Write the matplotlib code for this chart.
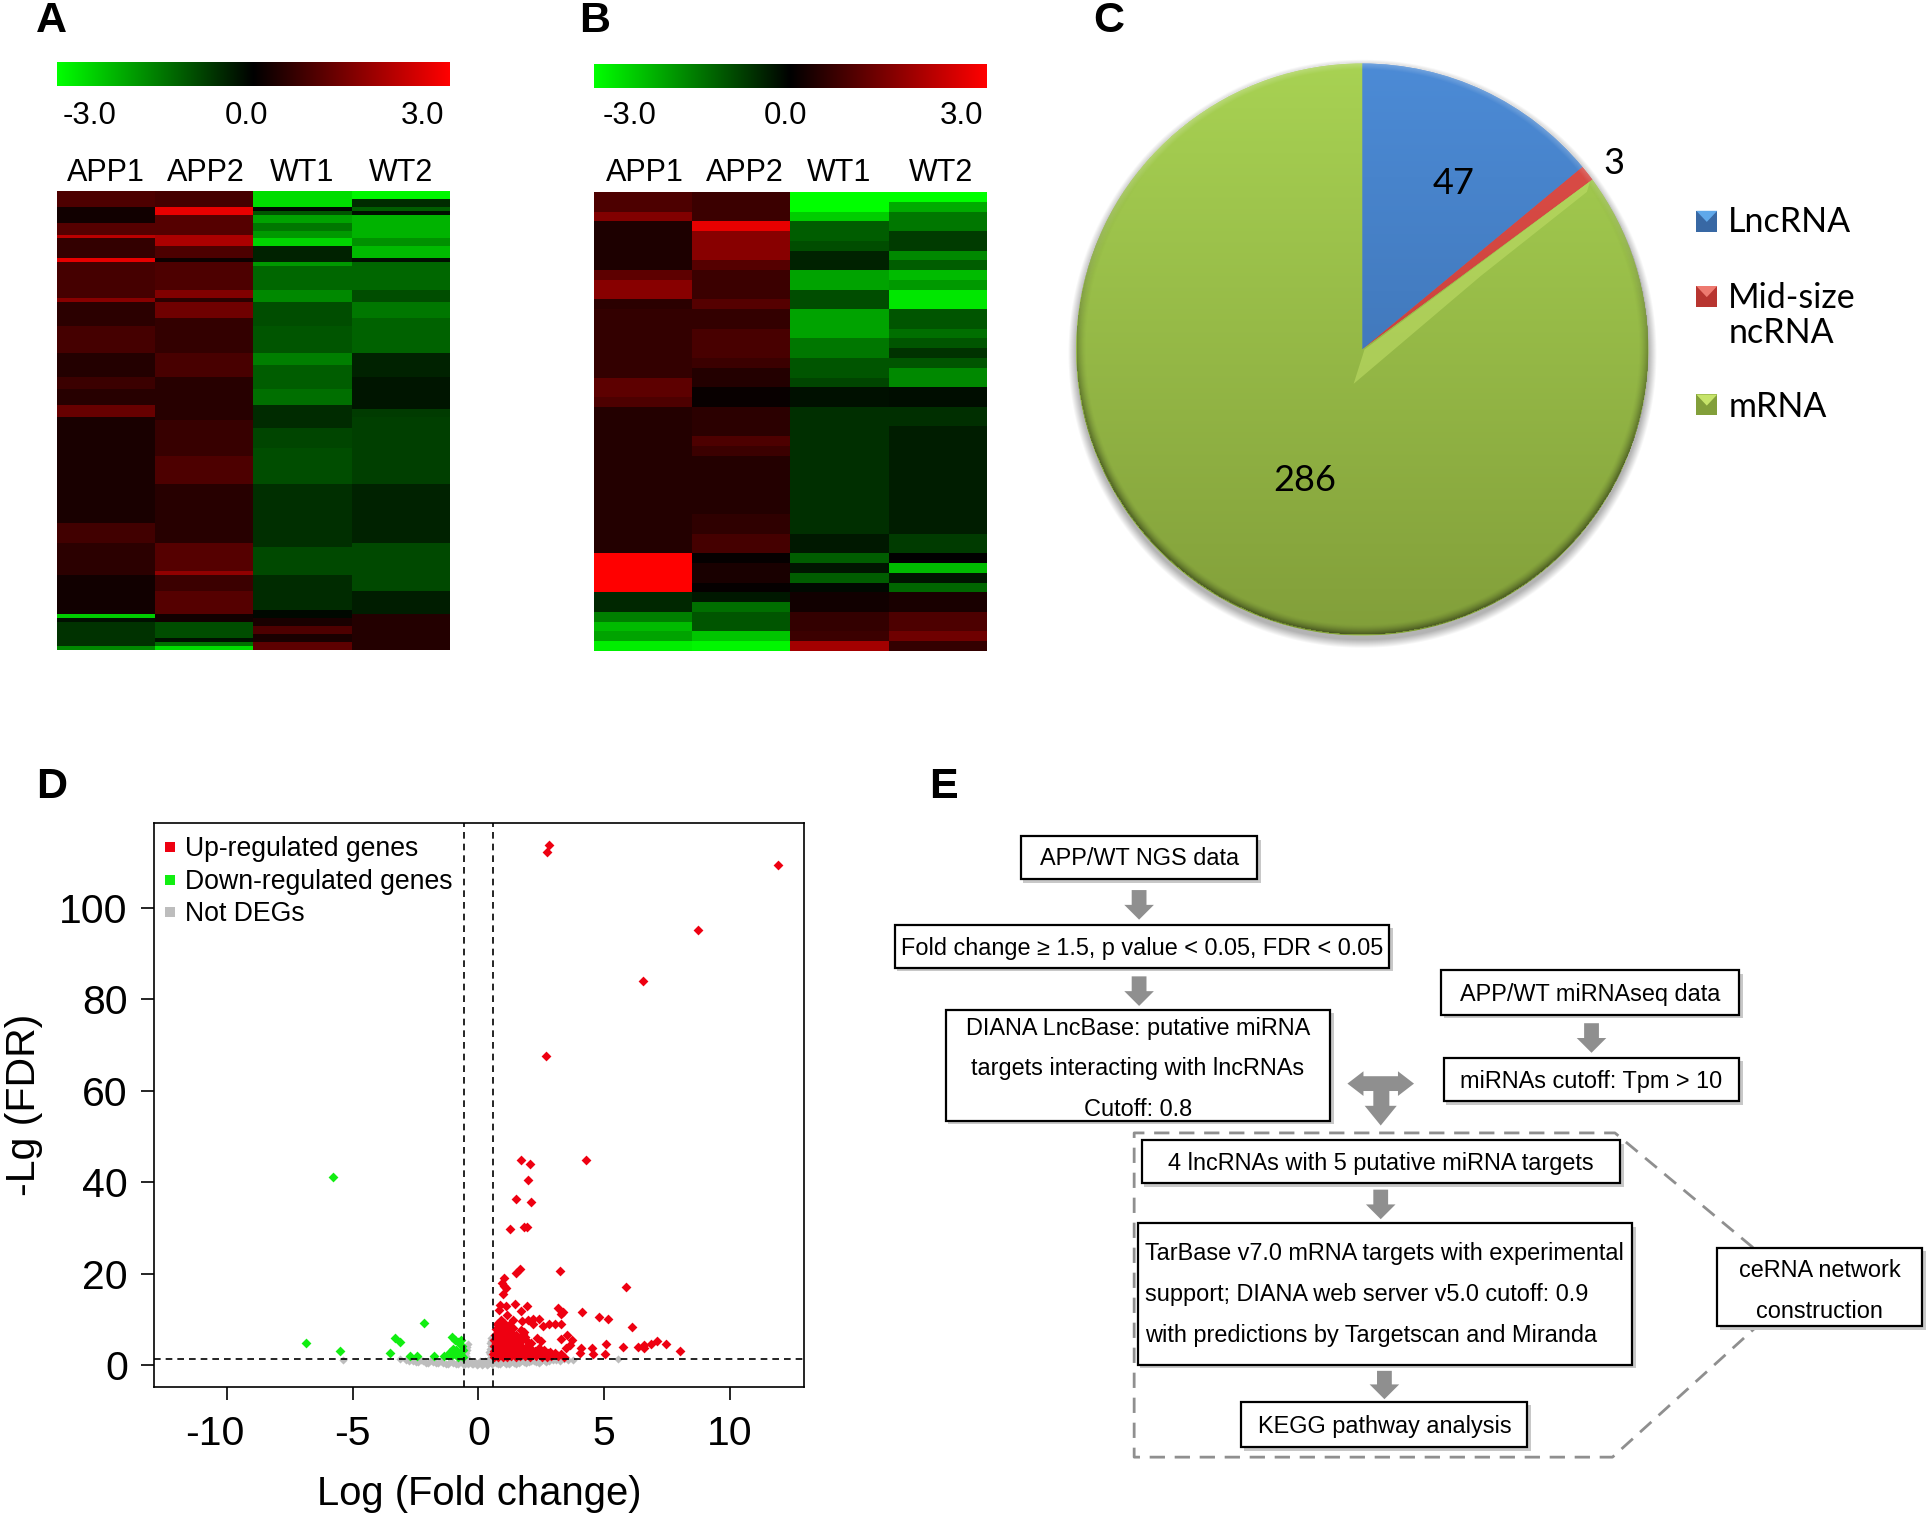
import numpy as np
import matplotlib
matplotlib.use("Agg")
import matplotlib.pyplot as plt
from matplotlib.colors import LinearSegmentedColormap
from matplotlib.patches import Rectangle, Polygon
from matplotlib.transforms import ScaledTranslation

plt.rcParams['font.family'] = ['Liberation Sans', 'DejaVu Sans']
plt.rcParams['axes.unicode_minus'] = False

# heatmap A, one (value, rows) run list per sample
a_app1 = [(0.9, 4), (0.2, 4), (1.0, 3), (2.2, 1), (0.6, 5), (2.7, 1), (0.8, 9), (1.6, 1), (0.5, 6), (0.8, 7),
          (0.4, 6), (0.7, 3), (0.45, 4), (1.2, 3), (0.3, 27), (0.75, 5), (0.5, 8), (0.2, 10), (-2.4, 1),
          (-0.2, 1), (-0.6, 6), (-1.6, 1)]
a_app2 = [(0.8, 4), (2.7, 2), (1.0, 5), (2.0, 3), (0.9, 3), (0.15, 1), (0.9, 7), (1.5, 2), (0.5, 1), (1.3, 4),
          (0.6, 9), (0.85, 6), (0.45, 11), (0.65, 9), (0.9, 7), (0.45, 15), (1.0, 7), (1.7, 1), (0.7, 4),
          (1.0, 6), (0.2, 2), (-0.9, 4), (-0.2, 1), (-1.3, 1), (-2.6, 1)]
a_wt1 = [(-2.6, 4), (-0.1, 1), (-1.0, 1), (-1.9, 2), (-1.4, 2), (-1.8, 2), (-2.5, 2), (-0.4, 4), (-1.8, 1),
         (-1.2, 6), (-1.6, 3), (-0.9, 6), (-1.0, 7), (-1.5, 3), (-1.1, 6), (-1.3, 4), (-0.5, 6), (-0.8, 5),
         (-0.9, 9), (-0.55, 16), (-0.85, 7), (-0.5, 9), (-0.1, 2), (0.3, 2), (0.9, 2), (0.3, 2), (1.1, 2)]
a_wt2 = [(-2.9, 2), (-0.5, 2), (-1.1, 1), (-0.2, 1), (-2.1, 6), (-1.7, 2), (-2.2, 3), (-0.2, 1), (-1.2, 7),
         (-0.9, 3), (-1.4, 4), (-1.15, 9), (-0.4, 6), (-0.25, 8), (-0.7, 2), (-0.75, 17), (-0.4, 15),
         (-0.85, 12), (-0.35, 6), (0.4, 9)]

# heatmap B
b_app1 = [(0.9, 2), (1.5, 1), (0.35, 5), (1.1, 1), (1.6, 2), (0.5, 1), (0.6, 7), (1.1, 2), (0.9, 1), (0.4, 15),
          (3.0, 4), (-0.45, 2), (-1.5, 1), (-2.2, 1), (-1.9, 1), (-2.8, 1)]
b_app2 = [(0.7, 3), (2.7, 1), (1.6, 3), (1.0, 1), (0.7, 3), (1.0, 1), (0.6, 2), (0.85, 3), (0.7, 1), (0.4, 2),
          (0.1, 2), (0.5, 3), (0.9, 1), (0.7, 1), (0.4, 6), (0.55, 2), (0.8, 2), (0.05, 1), (0.3, 2), (0.05, 1),
          (-0.3, 1), (-1.3, 1), (-1.0, 2), (-2.3, 1), (-2.9, 1)]
b_wt1 = [(-3.0, 2), (-2.4, 1), (-1.1, 2), (-0.9, 1), (-0.4, 2), (-1.9, 2), (-0.9, 2), (-1.9, 3), (-1.4, 2),
         (-1.0, 2), (-0.8, 1), (-0.2, 2), (-0.55, 13), (-0.3, 2), (-1.1, 1), (-0.25, 1), (-1.1, 1), (-0.1, 1),
         (0.2, 2), (0.6, 2), (0.7, 1), (1.9, 1)]
b_wt2 = [(-3.0, 1), (-2.0, 1), (-1.4, 2), (-0.7, 2), (-1.6, 1), (-1.1, 1), (-2.2, 1), (-1.8, 1), (-2.7, 2),
         (-1.0, 2), (-1.3, 1), (-1.0, 1), (-0.6, 1), (-1.0, 1), (-1.6, 2), (-0.15, 2), (-0.55, 2), (-0.35, 11),
         (-0.7, 2), (0.0, 1), (-2.2, 1), (-0.25, 1), (-1.2, 1), (0.3, 2), (0.9, 2), (1.3, 1), (0.6, 1)]

samples = ['APP1', 'APP2', 'WT1', 'WT2']
scale_labels = ['-3.0', '0.0', '3.0']

# pie
pie_names = ['LncRNA', 'Mid-size\nncRNA', 'mRNA']
pie_counts = [47, 3, 286]

# volcano, (log fold change, -lg FDR)
up_genes = [(2.80, 113.8), (2.74, 112.2), (11.91, 109.3), (8.73, 95.2), (6.56, 84.0), (2.67, 67.6),
            (1.70, 44.9), (2.06, 43.9), (4.26, 44.9), (1.99, 40.6), (1.51, 36.4), (2.11, 35.8), (1.27, 29.7),
            (1.80, 30.2), (1.94, 30.2), (1.64, 21.1), (1.51, 20.1), (3.24, 20.7), (1.03, 19.1), (0.92, 17.9),
            (1.01, 17.4), (1.11, 16.8), (5.86, 17.2), (0.98, 15.5), (0.85, 13.2), (1.09, 12.9), (1.45, 13.5),
            (1.92, 12.9), (0.81, 12.1), (1.68, 11.8), (3.17, 12.6), (3.37, 11.7), (3.30, 11.2), (4.12, 11.6),
            (4.79, 10.6), (5.15, 10.2), (1.14, 11.0), (1.38, 9.9), (1.75, 9.7), (1.98, 10.0), (2.18, 10.2),
            (2.41, 10.2), (2.18, 9.0), (2.57, 8.6), (2.81, 9.0), (3.04, 9.0), (3.30, 9.0), (6.10, 8.3),
            (3.54, 6.6), (3.30, 5.7), (3.74, 5.5), (3.63, 4.4), (3.50, 3.7), (5.09, 4.7), (5.76, 4.1),
            (6.33, 4.1), (6.58, 4.4), (6.58, 3.7), (6.87, 4.7), (7.11, 5.4), (7.47, 4.7), (8.01, 3.1),
            (5.03, 2.5), (4.50, 3.7), (4.56, 2.4), (4.07, 3.7), (4.03, 2.6),
            # dense part next to the cut-off
            (0.62, 1.9), (0.61, 3.1), (0.60, 4.3), (0.63, 5.5), (0.66, 6.7), (0.70, 7.9), (0.74, 9.1),
            (0.78, 1.8), (0.77, 3.0), (0.79, 4.2), (0.80, 5.4), (0.83, 6.6), (0.84, 7.8), (0.88, 9.0), (0.90, 9.9),
            (0.96, 1.9), (0.95, 3.2), (0.97, 4.4), (0.98, 5.6), (0.99, 6.8), (1.00, 8.0), (1.03, 9.2),
            (1.12, 1.8), (1.13, 3.0), (1.15, 4.2), (1.14, 5.4), (1.16, 6.6), (1.18, 7.8), (1.20, 8.9),
            (1.30, 2.0), (1.31, 3.2), (1.29, 4.4), (1.33, 5.6), (1.35, 6.8), (1.36, 8.2),
            (1.48, 1.9), (1.47, 3.1), (1.50, 4.3), (1.52, 5.4), (1.49, 6.6), (1.66, 2.0), (1.68, 3.2), (1.70, 4.0),
            (1.72, 5.6), (1.76, 6.8), (1.82, 7.3), (1.70, 7.7), (1.84, 2.1), (1.86, 3.0), (1.90, 4.1), (1.84, 6.2),
            (2.05, 1.9), (2.03, 3.0), (2.10, 4.9), (2.30, 2.0), (2.26, 3.2), (2.34, 5.9), (2.46, 2.6), (2.40, 3.8),
            (2.52, 1.9), (2.50, 5.4), (2.72, 1.9), (2.75, 2.6), (2.90, 2.0), (3.05, 2.7), (3.15, 2.0), (3.30, 2.4),
            (3.42, 1.9), (2.62, 3.3), (0.58, 2.4),
            (0.70, 2.4), (0.68, 3.6), (0.71, 4.8), (0.72, 6.1), (0.76, 7.2), (0.80, 8.4), (0.87, 2.5), (0.88, 3.7),
            (0.89, 4.9), (0.90, 6.1), (0.92, 7.3), (0.95, 8.5), (1.04, 2.4), (1.05, 3.6), (1.06, 4.8), (1.07, 6.0),
            (1.09, 7.2), (1.10, 8.4), (1.21, 2.5), (1.22, 3.7), (1.24, 4.9), (1.25, 6.1), (1.26, 7.3), (1.39, 2.5),
            (1.40, 3.7), (1.41, 4.9), (1.42, 6.1), (1.57, 2.5), (1.58, 3.6), (1.60, 4.7), (1.62, 6.0), (1.78, 2.5),
            (1.80, 3.6), (1.95, 2.5), (2.15, 2.4), (2.38, 2.6), (2.10, 3.5), (1.96, 5.0), (2.62, 2.4), (2.85, 3.0)]
down_genes = [(-5.78, 41.2), (-6.86, 4.8), (-5.50, 3.2), (-3.50, 2.7), (-3.30, 5.9), (-3.10, 5.1), (-2.18, 9.3),
              (-2.73, 2.1), (-2.44, 2.1), (-1.78, 2.1), (-1.37, 2.1), (-1.07, 6.1), (-0.94, 5.5), (-0.81, 5.2),
              (-0.68, 5.5), (-1.14, 3.0), (-1.00, 3.5), (-0.88, 3.4), (-0.74, 3.0), (-0.62, 3.4), (-1.07, 2.3),
              (-0.94, 2.4), (-0.81, 1.9), (-0.68, 2.3), (-0.62, 1.9), (-1.22, 2.2), (-1.00, 2.7), (-0.80, 2.7),
              (-0.66, 4.2)]
not_degs = [(-5.40, 1.2), (-3.10, 1.4), (-2.90, 1.2), (-2.75, 1.0), (-2.60, 1.0), (-2.50, 0.7), (-2.40, 0.8),
            (-2.30, 1.2), (-2.20, 0.9), (-2.10, 0.6), (-2.00, 0.6), (-1.90, 1.1), (-1.80, 0.8), (-1.70, 0.5),
            (-1.60, 0.5), (-1.50, 1.0), (-1.40, 0.6), (-1.30, 0.4), (-1.20, 0.4), (-1.10, 0.9), (-1.00, 0.5),
            (-0.90, 0.3), (-0.80, 0.3), (-0.72, 0.9), (-0.65, 0.9), (-0.60, 0.2), (-0.55, 0.3), (-0.55, 1.4),
            (-0.50, 2.0), (-0.48, 2.8), (-0.46, 3.4), (-0.44, 4.0), (-0.42, 4.6), (-0.40, 0.2), (-0.38, 1.2),
            (-0.30, 0.7), (-0.25, 0.2), (-0.20, 0.2), (-0.15, 0.8), (-0.10, 0.6), (-0.05, 0.1), (0.00, 0.2),
            (0.05, 0.9), (0.10, 0.7), (0.15, 0.1), (0.20, 0.3), (0.25, 1.0), (0.30, 0.8), (0.35, 0.1), (0.40, 0.2),
            (0.42, 1.4), (0.45, 2.4), (0.44, 3.0), (0.46, 3.6), (0.47, 4.8), (0.48, 4.2), (0.50, 6.0), (0.50, 5.4),
            (0.55, 0.4), (0.62, 0.7), (0.70, 0.5), (0.78, 0.3), (0.85, 0.2), (0.92, 0.7), (1.00, 0.7), (1.10, 0.3),
            (1.20, 0.4), (1.30, 0.8), (1.40, 0.6), (1.50, 0.3), (1.60, 0.5), (1.70, 0.9), (1.80, 0.8), (1.90, 0.5),
            (2.00, 0.7), (2.10, 1.0), (2.20, 1.0), (2.30, 0.7), (2.40, 0.6), (2.50, 1.0), (2.60, 1.1), (2.70, 0.8),
            (2.80, 0.9), (2.95, 1.1), (3.10, 1.2), (3.25, 0.9), (3.40, 1.4), (3.55, 1.1), (3.75, 1.2), (5.56, 1.5)]
volcano_legend = ['Up-regulated genes', 'Down-regulated genes', 'Not DEGs']
volcano_colors = ['#ee0011', '#11ee11', '#bdbdbd']
fc_cut = 0.585
fdr_cut = 1.3

# flowchart text
flow_boxes = {
    'ngs': ['APP/WT NGS data'],
    'fold': ['Fold change ≥ 1.5, p value < 0.05, FDR < 0.05'],
    'diana': ['DIANA LncBase: putative miRNA', 'targets interacting with lncRNAs', 'Cutoff: 0.8'],
    'mirseq': ['APP/WT miRNAseq data'],
    'mircut': ['miRNAs cutoff: Tpm > 10'],
    'lnc': ['4 lncRNAs with 5 putative miRNA targets'],
    'tar': ['TarBase v7.0 mRNA targets with experimental', 'support; DIANA web server v5.0 cutoff: 0.9',
            'with predictions by Targetscan and Miranda'],
    'kegg': ['KEGG pathway analysis'],
    'cerna': ['ceRNA network', 'construction'],
}
# layout below is in pixels of the shrunk reference
box_rects = {'ngs': (828, 678, 1020, 713), 'fold': (726, 750, 1127, 785), 'diana': (767, 819, 1079, 909),
             'mirseq': (1169, 787, 1411, 823), 'mircut': (1171, 858, 1411, 893), 'lnc': (926, 925, 1314, 960),
             'tar': (923, 992, 1324, 1107), 'kegg': (1007, 1137, 1239, 1174), 'cerna': (1393, 1012, 1559, 1076)}
box_lines = {'ngs': [696.5], 'fold': [769], 'diana': [834, 867, 900], 'mirseq': [807], 'mircut': [877],
             'lnc': [944], 'tar': [1017, 1050, 1083], 'kegg': [1157], 'cerna': [1031, 1064]}

S = 1933 / 1568
W, H = 1933, 1517
fig = plt.figure(figsize=(W / 100, H / 100), dpi=100)


def add_axes_px(x0, y0, x1, y1, **kw):
    # shrunk reference pixels -> figure fractions
    return fig.add_axes([x0 * S / W, 1 - y1 * S / H, (x1 - x0) * S / W, (y1 - y0) * S / H], **kw)


over = fig.add_axes([0, 0, 1, 1], zorder=10)
over.set_xlim(0, 1568)
over.set_ylim(1568 * H / W, 0)
over.axis('off')
over.patch.set_alpha(0)


def runs(column):
    return np.repeat([v for v, n in column], [n for v, n in column])


cmap = LinearSegmentedColormap.from_list('gbr', ['#00ff00', '#000000', '#ff0000'])


def heat_panel(columns, x0, bar_y, heat_y, scale_x, sample_x):
    bar = add_axes_px(x0, bar_y[0], x0 + 318, bar_y[1])
    bar.imshow(np.linspace(-3, 3, 256)[None, :], cmap=cmap, vmin=-3, vmax=3, aspect='auto')
    bar.axis('off')
    ax = add_axes_px(x0, heat_y[0], x0 + 318, heat_y[1])
    ax.imshow(np.column_stack([runs(c) for c in columns]), cmap=cmap, vmin=-3, vmax=3, aspect='auto',
              interpolation='nearest')
    ax.axis('off')
    for t, x in zip(scale_labels, scale_x):
        over.text(x, 94, t, ha='center', va='center', fontsize=22.5)
    for t, x in zip(samples, sample_x):
        over.text(x, 140, t, ha='center', va='center', fontsize=22)


heat_panel([a_app1, a_app2, a_wt1, a_wt2], 46, (50, 70), (155, 527), (73, 200, 343), (86, 167, 245, 325))
heat_panel([b_app1, b_app2, b_wt1, b_wt2], 482, (52, 71), (156, 528), (511, 637, 780), (523, 604, 681, 763))

# pie, shaded by clipping gradients to the wedges
pie_ax = add_axes_px(1105 - 232 * 1.06, 283.5 - 232 * 1.06, 1105 + 232 * 1.06, 283.5 + 232 * 1.06)
wedges, _ = pie_ax.pie(pie_counts, startangle=90, counterclock=False, radius=1,
                       colors=['#4a86d0', '#d9413c', '#a0c84c'])
sx, sy = np.meshgrid(np.linspace(-1.06, 1.06, 600), np.linspace(1.06, -1.06, 600))
shadow = np.zeros(sx.shape + (4,))
shadow[..., 3] = 0.3 * np.clip((1.03 - np.hypot(sx, sy + 0.015)) / 0.03, 0, 1)
pie_ax.imshow(shadow, extent=(-1.06, 1.06, -1.06, 1.06), zorder=0, aspect='auto')
xx, yy = np.meshgrid(np.linspace(-1, 1, 600), np.linspace(1, -1, 600))
rr = np.hypot(xx, yy)
ramps = [('#4c8bd6', '#3868a4'), ('#e0504a', '#b83530'), ('#a8d253', '#829f3a')]
for w, (top, low) in zip(wedges, ramps):
    g = LinearSegmentedColormap.from_list('r', [top, low])
    im = pie_ax.imshow(np.linspace(0, 1, 256)[:, None], cmap=g, extent=(-1, 1, -1, 1), zorder=2, aspect='auto')
    im.set_clip_path(w)
rim = np.zeros(rr.shape + (4,))
rim[..., 3] = np.where(rr <= 1, np.clip((rr - 0.965) / 0.035, 0, 1) ** 1.5 * 0.45 * np.clip(0.6 - yy * 0.9, 0, 1), 0)
pie_ax.imshow(rim, extent=(-1, 1, -1, 1), zorder=3, aspect='auto')
hi = np.zeros(rr.shape + (4,))
hi[..., :3] = 1
hi[..., 3] = np.where(rr <= 1, np.clip((rr - 0.975) / 0.025, 0, 1) * 0.25 * np.clip(yy * 1.3, 0, 1), 0)
pie_ax.imshow(hi, extent=(-1, 1, -1, 1), zorder=3, aspect='auto')
# bevel on the green slice along its upper edge
ang = np.deg2rad(90 - 360 * sum(pie_counts[:2]) / sum(pie_counts))
ex, ey = np.cos(ang), np.sin(ang)
pie_ax.add_patch(Polygon([(-0.03, -0.12), (0.008, 0.0), (0.99 * ex, 0.99 * ey), (0.97 * ex + 0.005, 0.97 * ey - 0.025),
                          (0.5 * ex + 0.012, 0.5 * ey - 0.04)],
                         fc='#bddc65', ec='none', alpha=0.6, zorder=4))
pie_ax.set_xlim(-1.06, 1.06)
pie_ax.set_ylim(-1.06, 1.06)
pie_ax.axis('off')
for t, x, y in zip(pie_counts, (1179, 1309, 1058), (149, 133, 390)):
    over.text(x, y, str(t), ha='center', va='center', fontsize=26, family=['Lato', 'DejaVu Sans'])
swatch_y = [179, 240, 328]
label_y = [180, 256, 330]
swatch_tops = ['#5fa8ea', '#ee7a70', '#c6e46a']
for name, sy_, ly, top, (c1, c2) in zip(pie_names, swatch_y, label_y, swatch_tops, ramps):
    over.add_patch(Rectangle((1376, sy_ - 8), 17, 17, fc=c2, ec='none'))
    over.add_patch(Polygon([(1376, sy_ - 8), (1393, sy_ - 8), (1384.5, sy_ + 1)], fc=top, ec='none'))
    over.text(1402, ly, name, ha='left', va='center', fontsize=24.5, linespacing=1.12,
              family=['Lato', 'DejaVu Sans'])

# volcano
vol = add_axes_px(125, 668, 652, 1125)
for genes, col, size in ((not_degs, volcano_colors[2], 17), (up_genes, volcano_colors[0], 25),
                         (down_genes, volcano_colors[1], 25)):
    vol.scatter([g[0] for g in genes], [g[1] for g in genes], s=size, marker='D', color=col, linewidths=0)
vol.axvline(-fc_cut, color='k', ls=(0, (4, 3)), lw=1.2)
vol.axvline(fc_cut, color='k', ls=(0, (4, 3)), lw=1.2)
vol.axhline(fdr_cut, color='k', ls=(0, (4, 3)), lw=1.2)
vol.set_xlim(-12.9, 12.94)
vol.set_ylim(-4.7, 118.4)
vol.set_xticks([-10, -5, 0, 5, 10])
vol.set_yticks([0, 20, 40, 60, 80, 100])
vol.tick_params(length=9.4, width=1.2, labelsize=29.5)
vol.tick_params(axis='x', pad=11)
vol.tick_params(axis='y', pad=9.5)
for s in vol.spines.values():
    s.set_linewidth(1.2)
# the -10 label sits left of its tick in the reference
lab = vol.get_xticklabels()[0]
lab.set_transform(lab.get_transform() + ScaledTranslation(-0.12, 0, fig.dpi_scale_trans))
vol.set_xlabel('Log (Fold change)', fontsize=28.8, labelpad=16)
vol.set_ylabel('-Lg (FDR)', fontsize=29.5, labelpad=11.5)
for t, c, y in zip(volcano_legend, volcano_colors, (687, 714, 740)):
    over.add_patch(Rectangle((134, y - 4), 8, 8, fc=c, ec='none'))
    over.text(150, y + 1.5, t, ha='left', va='center', fontsize=19.2)

# flowchart
for key, (x0, y0, x1, y1) in box_rects.items():
    over.add_patch(Rectangle((x0 + 2, y0 + 3), x1 - x0 + 1, y1 - y0, fc='#c8c8c8', ec='none', zorder=2))
    over.add_patch(Rectangle((x0, y0), x1 - x0, y1 - y0, fc='white', ec='k', lw=1.6, zorder=3))
    for t, y in zip(flow_boxes[key], box_lines[key]):
        if key == 'tar':
            over.text(929, y, t, ha='left', va='center', fontsize=16.9, zorder=4)
        else:
            over.text((x0 + x1) / 2, y, t, ha='center', va='center', fontsize=16.9, zorder=4)


def down_arrow(x, y0, y1):
    over.add_patch(Polygon([(x - 6, y0), (x + 6, y0), (x + 6, y1 - 12), (x + 12, y1 - 12), (x, y1),
                            (x - 12, y1 - 12), (x - 6, y1 - 12)], fc='#8f8f8f', ec='none', zorder=2))


for x, y0, y1 in ((924, 722, 746), (924, 792, 816), (1291, 830, 854), (1120, 965, 989), (1123, 1112, 1135)):
    down_arrow(x, y0, y1)
over.add_patch(Polygon([(1093, 879), (1106, 869), (1106, 873), (1134, 873), (1134, 869), (1147, 879), (1134, 889),
                        (1134, 885), (1127, 885), (1127, 897), (1133, 897), (1120, 913), (1107, 897), (1114, 897),
                        (1114, 885), (1106, 885), (1106, 889)], fc='#8f8f8f', ec='none', zorder=2))
dash = dict(color='#8f8f8f', lw=2, ls=(0, (5.5, 3.5)), zorder=1)
over.plot([1422, 1310, 920, 920, 1308, 1425], [1012, 919, 919, 1182, 1182, 1076], **dash)

for t, x, y in (('A', 42, 17), ('B', 482, 17), ('C', 899, 17), ('D', 42, 638), ('E', 765, 638)):
    over.text(x, y, t, ha='center', va='center', fontsize=31, fontweight='bold')

fig.savefig('out.png', dpi=100)
